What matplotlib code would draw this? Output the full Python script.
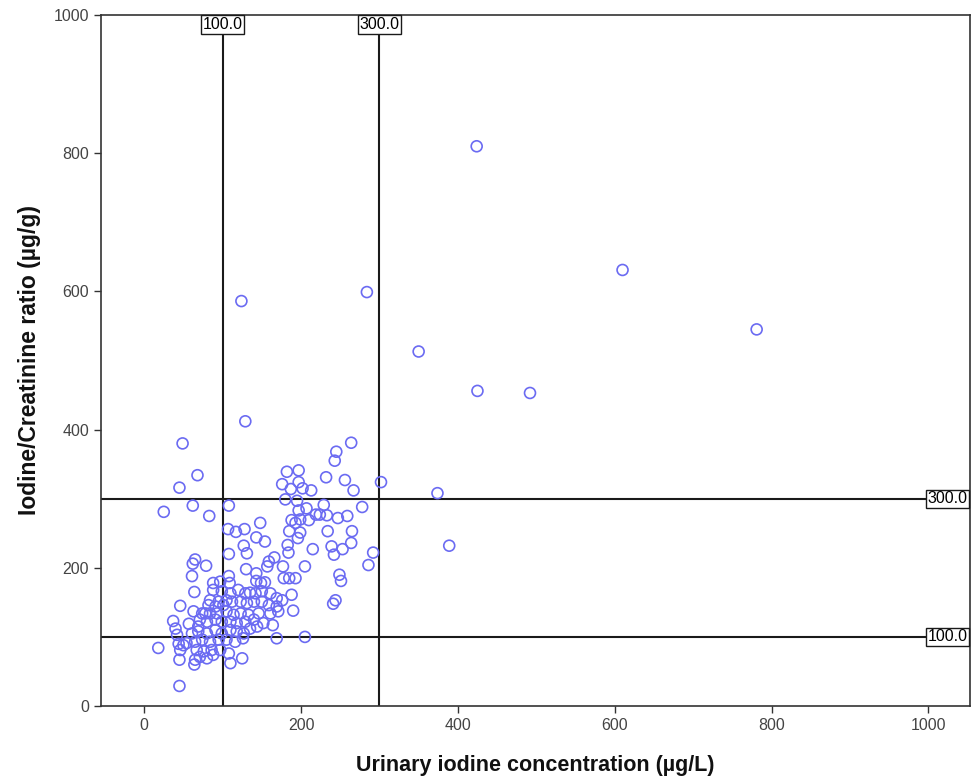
import matplotlib
matplotlib.use("Agg")
import matplotlib.pyplot as plt

# Urinary iodine concentration (µg/L)
uic = [
    49, 68, 45, 25, 62, 83, 108, 107, 117, 128, 148, 143, 154, 127, 131, 108, 65, 62, 79, 61,
    64, 46, 37, 40, 18, 45, 45, 44, 64,
    264, 245, 243, 182, 197, 232, 256, 176, 197, 187, 202, 213, 267, 302, 180, 195, 229, 278,
    207, 197, 219, 224, 233, 259, 247, 188, 199, 210, 193, 185, 199, 234, 265, 196, 264, 183,
    215, 239, 242, 253, 184, 292, 286, 249, 251, 244, 241, 205, 178, 185, 193, 190, 205, 169,
    166, 188, 176, 159, 157, 177, 143, 130, 149, 143, 108, 154,
    88, 97, 109, 88, 99, 84, 95, 110, 120, 129, 135, 142, 150, 161, 169, 82, 91, 101, 112,
    123, 131, 140, 150, 159, 169, 63, 74, 84, 93, 105, 123, 133, 146, 161, 171, 71, 80, 91,
    99, 110, 118, 129, 140, 152, 164, 61, 69, 80, 91, 99, 110, 118, 127, 135, 144, 54, 65,
    74, 84, 95, 105, 116, 126, 67, 76, 86, 97, 108, 125, 65, 71, 88, 110, 80, 50, 42, 57,
    69, 46, 78, 105, 114,
    424, 610, 781, 350, 284, 124, 425, 492, 374, 389, 129,
]
# Iodine/Creatinine ratio (µg/g)
icr = [
    380, 334, 316, 281, 290, 275, 290, 256, 252, 256, 265, 244, 238, 232, 221, 220, 212, 206, 203, 188,
    165, 145, 123, 112, 84, 67, 29, 90, 60,
    381, 368, 355, 339, 341, 331, 327, 321, 324, 314, 315, 312, 312, 324, 299, 297, 291, 288,
    286, 283, 277, 277, 276, 275, 272, 269, 270, 269, 265, 253, 251, 253, 253, 243, 236, 233,
    227, 231, 219, 227, 222, 222, 204, 190, 181, 153, 148, 202, 185, 185, 185, 138, 100, 98,
    215, 161, 153, 209, 202, 202, 192, 198, 178, 181, 188, 179,
    178, 180, 178, 168, 166, 153, 151, 163, 168, 163, 164, 163, 166, 163, 156, 146, 144, 146, 151,
    151, 149, 151, 151, 146, 144, 137, 134, 134, 134, 137, 134, 132, 134, 134, 137, 125, 122, 125,
    122, 122, 120, 122, 125, 120, 117, 105, 108, 105, 110, 105, 110, 108, 105, 112, 115, 91, 93,
    96, 93, 96, 96, 93, 98, 81, 79, 81, 81, 76, 69, 67, 71, 74, 62, 69, 88, 103, 119,
    115, 81, 134, 153, 132,
    810, 631, 545, 513, 599, 586, 456, 453, 308, 232, 412,
]

x_refs = [100.0, 300.0]
y_refs = [100.0, 300.0]
x_ticks = [0, 200, 400, 600, 800, 1000]
y_ticks = [0, 200, 400, 600, 800, 1000]

plt.rcParams["font.family"] = ["Liberation Sans", "DejaVu Sans"]

fig = plt.figure(figsize=(9.77, 7.76), dpi=100)
ax = fig.add_axes([0.1034, 0.0902, 0.8894, 0.8905])

ax.scatter(uic, icr, s=62, facecolors="none", edgecolors="#6b6bf2", linewidths=1.2, zorder=3)

for xv in x_refs:
    ax.axvline(xv, color="#1a1a1a", lw=1.5, zorder=2)
    ax.annotate(f"{xv:.1f}", xy=(xv, 1000), xycoords="data", xytext=(0, -1.5),
                textcoords="offset points", ha="center", va="top", fontsize=11.5,
                bbox=dict(boxstyle="square,pad=0.1", fc="white", ec="#1a1a1a", lw=1.0), zorder=4)
for yv in y_refs:
    ax.axhline(yv, color="#1a1a1a", lw=1.5, zorder=2)
    ax.annotate(f"{yv:.1f}", xy=(1, yv), xycoords=("axes fraction", "data"), xytext=(-1.5, 0),
                textcoords="offset points", ha="right", va="center", fontsize=11.5,
                bbox=dict(boxstyle="square,pad=0.1", fc="white", ec="#1a1a1a", lw=1.0), zorder=4)

ax.set_xlim(-55, 1053)
ax.set_ylim(0, 1000)
ax.set_xticks(x_ticks)
ax.set_yticks(y_ticks)
ax.tick_params(direction="out", length=5, width=1.0, labelsize=11.5, colors="#333333",
               labelcolor="#444444")
for sp in ax.spines.values():
    sp.set_linewidth(1.2)
    sp.set_color("#333333")

ax.set_xlabel("Urinary iodine concentration (µg/L)", fontsize=15.5, fontweight="bold",
              labelpad=16, color="#111111")
ax.set_ylabel("Iodine/Creatinine ratio (µg/g)", fontsize=16.5, fontweight="bold",
              labelpad=9, color="#111111")

fig.savefig("out.png", dpi=100)
